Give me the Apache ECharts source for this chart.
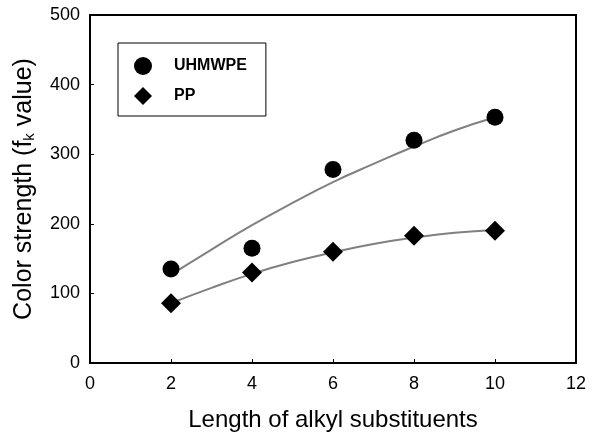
<!DOCTYPE html>
<html>
<head>
<meta charset="utf-8">
<script src="https://cdn.jsdelivr.net/npm/echarts@6/dist/echarts.min.js"></script>
<style>
  html, body { margin: 0; padding: 0; background: #fff; }
  #chart { width: 597px; height: 434px; }
</style>
</head>
<body>
<div id="chart"></div>
<script>
// measured points
const xVals = [2, 4, 6, 8, 10]
const uhmwpe = [135, 165, 278, 320, 353]
const pp = [86, 130, 160, 183, 190]

// fitted curves
const fitX = [2, 3, 4, 5, 6, 7, 8, 9, 10]
const uhmwpeFit = [127, 163, 198, 230, 260, 286, 311, 334, 353]
const ppFit = [86, 108, 128, 145, 159, 171, 180, 187, 191]

const xTicks = [0, 2, 4, 6, 8, 10, 12]
const yTicks = [0, 100, 200, 300, 400, 500]

const pair = (xs, ys) => xs.map((x, i) => [x, ys[i]])

const chart = echarts.init(document.getElementById('chart'))
const font = 'Liberation Sans, Arial, sans-serif'

chart.setOption({
  animation: false,
  textStyle: { fontFamily: font, color: '#000' },
  grid: {
    left: 90, right: 21, top: 15, bottom: 71,
    outerBoundsMode: 'none',
    show: true, borderColor: '#000', borderWidth: 2
  },
  legend: {
    data: ['UHMWPE', 'PP'],
    orient: 'vertical',
    left: 118, top: 43,
    padding: [14, 19, 11, 16],
    itemGap: 12,
    itemWidth: 18, itemHeight: 18,
    borderColor: '#000', borderWidth: 1,
    textStyle: { fontFamily: font, fontWeight: 'bold', fontSize: 16, color: '#000', padding: [0, 0, 0, 17] }
  },
  xAxis: {
    type: 'value',
    min: xTicks[0], max: xTicks[xTicks.length - 1], interval: 2,
    name: 'Length of alkyl substituents',
    nameLocation: 'middle', nameGap: 45,
    nameTextStyle: { fontFamily: font, fontSize: 24, color: '#000' },
    axisLine: { lineStyle: { color: '#000', width: 2 } },
    axisTick: { inside: true, length: 4, lineStyle: { color: '#000' } },
    axisLabel: { fontFamily: font, fontSize: 18, color: '#000', margin: 12 },
    splitLine: { show: false }
  },
  yAxis: {
    type: 'value',
    min: yTicks[0], max: yTicks[yTicks.length - 1], interval: 100,
    name: '{a|Color strength (f}{b|k}{a| value)}',
    nameLocation: 'middle', nameGap: 53,
    nameTextStyle: {
      rich: {
        a: { fontFamily: font, fontSize: 25, color: '#000' },
        b: { fontFamily: font, fontSize: 15, color: '#000', verticalAlign: 'bottom', padding: [10, 0, 0, 0] }
      }
    },
    axisLine: { lineStyle: { color: '#000', width: 2 } },
    axisTick: { inside: true, length: 4, lineStyle: { color: '#000' } },
    axisLabel: { fontFamily: font, fontSize: 18, color: '#000', margin: 10 },
    splitLine: { show: false }
  },
  series: [
    {
      type: 'line', data: pair(fitX, uhmwpeFit), smooth: true, showSymbol: false,
      lineStyle: { color: '#808080', width: 2 }, z: 1, silent: true
    },
    {
      type: 'line', data: pair(fitX, ppFit), smooth: true, showSymbol: false,
      lineStyle: { color: '#808080', width: 2 }, z: 1, silent: true
    },
    {
      name: 'UHMWPE', type: 'scatter', data: pair(xVals, uhmwpe),
      symbol: 'circle', symbolSize: 17, itemStyle: { color: '#000', opacity: 1 }, z: 3
    },
    {
      name: 'PP', type: 'scatter', data: pair(xVals, pp),
      symbol: 'diamond', symbolSize: 20, itemStyle: { color: '#000', opacity: 1 }, z: 3
    }
  ]
})
</script>
</body>
</html>
